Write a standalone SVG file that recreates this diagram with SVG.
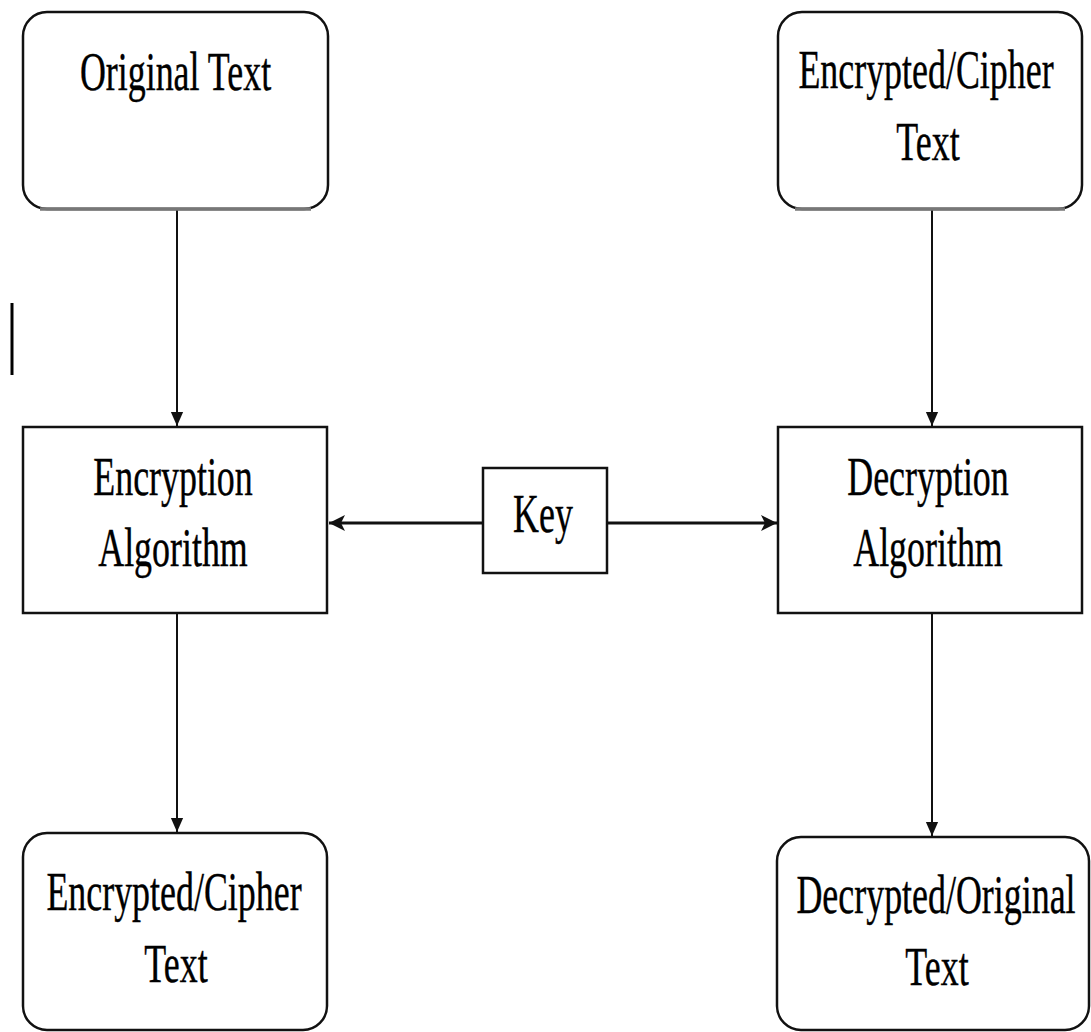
<svg xmlns="http://www.w3.org/2000/svg" width="1091" height="1032" viewBox="0 0 1091 1032">
<style>
.box{fill:#fff;stroke:#111;stroke-width:2.5}
.t{font-family:"Liberation Serif","Times New Roman",serif;font-size:54px;fill:#000;text-anchor:middle;stroke:#000;stroke-width:0.4}
.c{stroke:#111;stroke-width:2;fill:none}
.ck{stroke:#111;stroke-width:3;fill:none}
</style>
<defs>
<marker id="ah" markerWidth="14" markerHeight="18" refX="16" refY="7" orient="auto" markerUnits="userSpaceOnUse" viewBox="0 0 16 14">
<path d="M0,0 L16,7 L0,14 z" fill="#111"/>
</marker>
<marker id="ahk" markerWidth="16" markerHeight="16" refX="16" refY="8" orient="auto" markerUnits="userSpaceOnUse" viewBox="0 0 16 16">
<path d="M0,0 L16,8 L0,16 L4,8 z" fill="#111"/>
</marker>
</defs>
<rect width="1091" height="1032" fill="#fff"/>
<g id="connectors">
<line class="c" x1="177" y1="210" x2="177" y2="426" marker-end="url(#ah)"/>
<line class="c" x1="177" y1="613" x2="177" y2="832" marker-end="url(#ah)"/>
<line class="c" x1="932" y1="210" x2="932" y2="426" marker-end="url(#ah)"/>
<line class="c" x1="932" y1="613" x2="932" y2="836" marker-end="url(#ah)"/>
<line class="ck" x1="483" y1="523" x2="329" y2="523" marker-end="url(#ahk)"/>
<line class="ck" x1="607" y1="523" x2="777" y2="523" marker-end="url(#ahk)"/>
</g>
<g id="stray">
<line x1="12" y1="303" x2="12" y2="375" stroke="#000" stroke-width="3"/>
</g>
<g id="original-text">
<rect class="box" x="23" y="12" width="305" height="197" rx="24"/>
<line x1="40" y1="209" x2="311" y2="209" stroke="#777" stroke-width="3.5"/>
<text class="t" transform="translate(175.5,90) scale(0.665,1)">Original Text</text>
</g>
<g id="cipher-text-top">
<rect class="box" x="778" y="12" width="304" height="197" rx="24"/>
<line x1="795" y1="209" x2="1065" y2="209" stroke="#777" stroke-width="3.5"/>
<text class="t" transform="translate(926,88) scale(0.665,1)">Encrypted/Cipher</text>
<text class="t" transform="translate(928,160) scale(0.665,1)">Text</text>
</g>
<g id="encryption-algorithm">
<rect class="box" x="23" y="427" width="304" height="186"/>
<text class="t" transform="translate(173,495) scale(0.665,1)">Encryption</text>
<text class="t" transform="translate(173,566) scale(0.665,1)">Algorithm</text>
</g>
<g id="key">
<rect class="box" x="483" y="468" width="124" height="105"/>
<text class="t" transform="translate(543,532) scale(0.665,1)">Key</text>
</g>
<g id="decryption-algorithm">
<rect class="box" x="778" y="427" width="304" height="186"/>
<text class="t" transform="translate(928,495) scale(0.665,1)">Decryption</text>
<text class="t" transform="translate(928,566) scale(0.665,1)">Algorithm</text>
</g>
<g id="cipher-text-bottom">
<rect class="box" x="23" y="833" width="304" height="197" rx="24"/>
<text class="t" transform="translate(174,910) scale(0.665,1)">Encrypted/Cipher</text>
<text class="t" transform="translate(176,982) scale(0.665,1)">Text</text>
</g>
<g id="decrypted-text">
<rect class="box" x="777" y="837" width="312" height="193" rx="24"/>
<text class="t" transform="translate(936,913) scale(0.665,1)">Decrypted/Original</text>
<text class="t" transform="translate(937,985) scale(0.665,1)">Text</text>
</g>
</svg>
